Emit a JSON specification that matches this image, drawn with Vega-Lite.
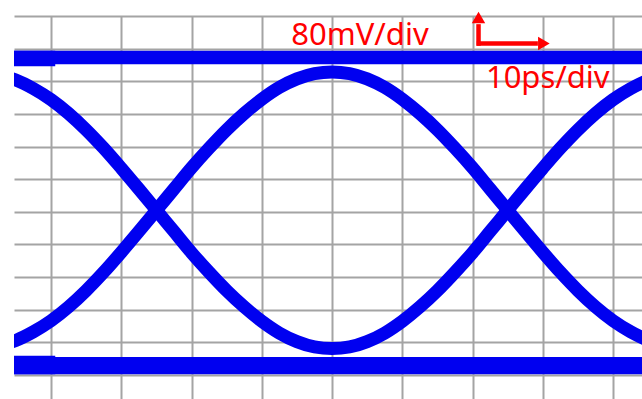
{
  "$schema": "https://vega.github.io/schema/vega-lite/v6.json",
  "width": 628,
  "height": 383,
  "padding": {"left": 14, "top": 16, "right": 0, "bottom": 0},
  "autosize": {"type": "none"},
  "background": "white",
  "config": {
    "view": {"stroke": null},
    "axis": {"grid": true, "labels": false, "ticks": false, "domain": false, "title": null, "gridColor": "#a4a4a4", "gridWidth": 2, "gridOpacity": 1}
  },
  "datasets": {
    "curves": [
      {"series": "a", "t": -7.5, "v": 73}, {"series": "a", "t": -5, "v": 85}, {"series": "a", "t": -2.5, "v": 106}, {"series": "a", "t": 0, "v": 133},
      {"series": "a", "t": 2.5, "v": 167}, {"series": "a", "t": 5, "v": 207}, {"series": "a", "t": 7.5, "v": 252}, {"series": "a", "t": 10, "v": 301},
      {"series": "a", "t": 12.5, "v": 352}, {"series": "a", "t": 15, "v": 404}, {"series": "a", "t": 17.5, "v": 456}, {"series": "a", "t": 20, "v": 508},
      {"series": "a", "t": 22.5, "v": 556}, {"series": "a", "t": 25, "v": 601}, {"series": "a", "t": 27.5, "v": 641}, {"series": "a", "t": 30, "v": 676},
      {"series": "a", "t": 32.5, "v": 705}, {"series": "a", "t": 35, "v": 726}, {"series": "a", "t": 37.5, "v": 739}, {"series": "a", "t": 40, "v": 743},
      {"series": "a", "t": 42.5, "v": 739}, {"series": "a", "t": 45, "v": 726}, {"series": "a", "t": 47.5, "v": 705}, {"series": "a", "t": 50, "v": 676},
      {"series": "a", "t": 52.5, "v": 641}, {"series": "a", "t": 55, "v": 601}, {"series": "a", "t": 57.5, "v": 556}, {"series": "a", "t": 60, "v": 508},
      {"series": "a", "t": 62.5, "v": 456}, {"series": "a", "t": 65, "v": 404}, {"series": "a", "t": 67.5, "v": 352}, {"series": "a", "t": 70, "v": 301},
      {"series": "a", "t": 72.5, "v": 252}, {"series": "a", "t": 75, "v": 207}, {"series": "a", "t": 77.5, "v": 167}, {"series": "a", "t": 80, "v": 133},
      {"series": "a", "t": 82.5, "v": 106}, {"series": "a", "t": 85, "v": 85},
      {"series": "b", "t": -7.5, "v": 735}, {"series": "b", "t": -5, "v": 723}, {"series": "b", "t": -2.5, "v": 702}, {"series": "b", "t": 0, "v": 675},
      {"series": "b", "t": 2.5, "v": 641}, {"series": "b", "t": 5, "v": 601}, {"series": "b", "t": 7.5, "v": 556}, {"series": "b", "t": 10, "v": 507},
      {"series": "b", "t": 12.5, "v": 456}, {"series": "b", "t": 15, "v": 404}, {"series": "b", "t": 17.5, "v": 352}, {"series": "b", "t": 20, "v": 300},
      {"series": "b", "t": 22.5, "v": 252}, {"series": "b", "t": 25, "v": 207}, {"series": "b", "t": 27.5, "v": 167}, {"series": "b", "t": 30, "v": 132},
      {"series": "b", "t": 32.5, "v": 103}, {"series": "b", "t": 35, "v": 82}, {"series": "b", "t": 37.5, "v": 69}, {"series": "b", "t": 40, "v": 65},
      {"series": "b", "t": 42.5, "v": 69}, {"series": "b", "t": 45, "v": 82}, {"series": "b", "t": 47.5, "v": 103}, {"series": "b", "t": 50, "v": 132},
      {"series": "b", "t": 52.5, "v": 167}, {"series": "b", "t": 55, "v": 207}, {"series": "b", "t": 57.5, "v": 252}, {"series": "b", "t": 60, "v": 300},
      {"series": "b", "t": 62.5, "v": 352}, {"series": "b", "t": 65, "v": 404}, {"series": "b", "t": 67.5, "v": 456}, {"series": "b", "t": 70, "v": 507},
      {"series": "b", "t": 72.5, "v": 556}, {"series": "b", "t": 75, "v": 601}, {"series": "b", "t": 77.5, "v": 641}, {"series": "b", "t": 80, "v": 675},
      {"series": "b", "t": 82.5, "v": 702}, {"series": "b", "t": 85, "v": 723}
    ],
    "bands": [
      {"t": -5.27, "t2": 84.12, "v": 762, "v2": 795},
      {"t": -5.27, "t2": 0.6, "v": 757, "v2": 795},
      {"t": -5.27, "t2": 84.12, "v": 2, "v2": 44},
      {"t": -5.27, "t2": 0.6, "v": 2, "v2": 47}
    ],
    "arrows": [
      {"t": 60.85, "t2": 60.85, "v": 807, "v2": 860},
      {"t": 60.6, "t2": 69.3, "v": 812.7, "v2": 812.7}
    ],
    "heads": [
      {"t": 60.85, "v": 876.3, "shape": "triangle-up"},
      {"t": 70.15, "v": 812.7, "shape": "triangle-right"}
    ],
    "labels": [
      {"t": 34.2, "v": 809.8, "text": "80mV/div"},
      {"t": 61.9, "v": 703.9, "text": "10ps/div"}
    ]
  },
  "layer": [
    {
      "data": {"name": "bands"},
      "mark": {"type": "rect", "color": "#0000f0", "clip": true},
      "encoding": {
        "x": {"field": "t", "type": "quantitative", "scale": {"domain": [-5.27, 84.12], "nice": false, "zero": false}, "axis": {"values": [0, 10, 20, 30, 40, 50, 60, 70, 80], "title": null}},
        "x2": {"field": "t2"},
        "y": {"field": "v", "type": "quantitative", "scale": {"domain": [-58.7, 880], "nice": false, "zero": false}, "axis": {"values": [0, 80, 160, 240, 320, 400, 480, 560, 640, 720, 800, 880], "title": null}},
        "y2": {"field": "v2"}
      }
    },
    {
      "data": {"name": "curves"},
      "mark": {"type": "line", "clip": true, "strokeWidth": 13, "interpolate": "monotone", "color": "#0000f0"},
      "encoding": {
        "x": {"field": "t", "type": "quantitative", "scale": {"domain": [-5.27, 84.12], "nice": false, "zero": false}, "axis": {"values": [0, 10, 20, 30, 40, 50, 60, 70, 80], "title": null}},
        "y": {"field": "v", "type": "quantitative", "scale": {"domain": [-58.7, 880], "nice": false, "zero": false}, "axis": {"values": [0, 80, 160, 240, 320, 400, 480, 560, 640, 720, 800, 880], "title": null}},
        "detail": {"field": "series", "type": "nominal"}
      }
    },
    {
      "data": {"name": "arrows"},
      "mark": {"type": "rule", "color": "#ff0000", "strokeWidth": 4.5},
      "encoding": {
        "x": {"field": "t", "type": "quantitative", "scale": {"domain": [-5.27, 84.12], "nice": false, "zero": false}, "axis": {"values": [0, 10, 20, 30, 40, 50, 60, 70, 80], "title": null}},
        "x2": {"field": "t2"},
        "y": {"field": "v", "type": "quantitative", "scale": {"domain": [-58.7, 880], "nice": false, "zero": false}, "axis": {"values": [0, 80, 160, 240, 320, 400, 480, 560, 640, 720, 800, 880], "title": null}},
        "y2": {"field": "v2"}
      }
    },
    {
      "data": {"name": "heads"},
      "mark": {"type": "point", "filled": true, "color": "#ff0000", "opacity": 1, "strokeWidth": 0},
      "encoding": {
        "x": {"field": "t", "type": "quantitative", "scale": {"domain": [-5.27, 84.12], "nice": false, "zero": false}, "axis": {"values": [0, 10, 20, 30, 40, 50, 60, 70, 80], "title": null}},
        "y": {"field": "v", "type": "quantitative", "scale": {"domain": [-58.7, 880], "nice": false, "zero": false}, "axis": {"values": [0, 80, 160, 240, 320, 400, 480, 560, 640, 720, 800, 880], "title": null}},
        "shape": {"field": "shape", "type": "nominal", "scale": null},
        "size": {"value": 180}
      }
    },
    {
      "data": {"name": "labels"},
      "mark": {"type": "text", "color": "#ff0000", "font": "Noto Sans", "fontSize": 31, "align": "left", "baseline": "alphabetic"},
      "encoding": {
        "x": {"field": "t", "type": "quantitative", "scale": {"domain": [-5.27, 84.12], "nice": false, "zero": false}, "axis": {"values": [0, 10, 20, 30, 40, 50, 60, 70, 80], "title": null}},
        "y": {"field": "v", "type": "quantitative", "scale": {"domain": [-58.7, 880], "nice": false, "zero": false}, "axis": {"values": [0, 80, 160, 240, 320, 400, 480, 560, 640, 720, 800, 880], "title": null}},
        "text": {"field": "text", "type": "nominal"}
      }
    }
  ]
}
